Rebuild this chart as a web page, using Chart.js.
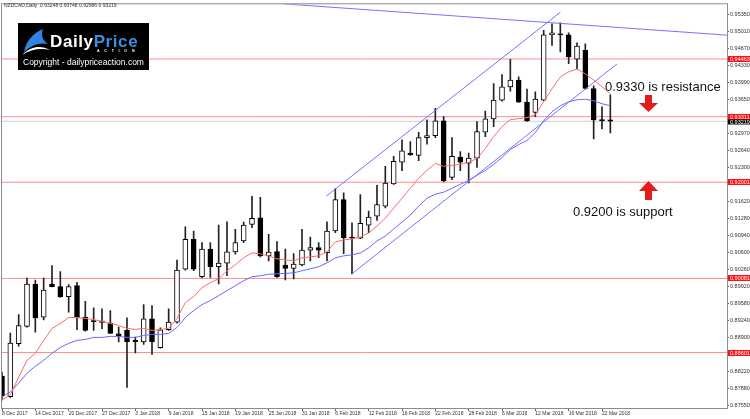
<!DOCTYPE html>
<html>
<head>
<meta charset="utf-8">
<script src="https://cdn.jsdelivr.net/npm/chart.js@4.4.0/dist/chart.umd.min.js"></script>
<style>
  html, body { margin: 0; padding: 0; background: #fff; }
  #wrap { position: relative; width: 750px; height: 419px; overflow: hidden; font-family: "Liberation Sans", Arial, sans-serif; }
  #wrap canvas { position: absolute; left: 0; top: 0; }
  .hdr { position: absolute; left: 4px; top: 2px; font-size: 5px; line-height: 6px; color: #333; white-space: nowrap; }
  .note { position: absolute; font-size: 13px; line-height: 13px; color: #111; white-space: nowrap; }
  #logo { position: absolute; left: 18px; top: 23px; width: 131px; height: 47px; background: #000; }
  #logo .brand { position: absolute; left: 32px; top: 10px; font-size: 17px; line-height: 17px; font-weight: bold; letter-spacing: 0.6px; color: #fff; white-space: nowrap; }
  #logo .brand span { color: #3b8fe3; }
  #logo .action { position: absolute; left: 79px; top: 25.5px; font-size: 3.5px; line-height: 4px; font-weight: bold; letter-spacing: 4.8px; color: #fff; }
  #logo .copy { position: absolute; left: 5px; top: 34px; font-size: 8.5px; line-height: 10px; color: #fff; white-space: nowrap; }
  #logo svg { position: absolute; left: 0; top: 0; }
  #arrows { position: absolute; left: 0; top: 0; }
</style>
</head>
<body>
<div id="wrap">
  <canvas id="chart" width="750" height="419"></canvas>
  <div class="hdr">NZDCAD,Daily&nbsp; 0.93248 0.93748 0.92986 0.93219</div>
  <div id="logo">
    <svg width="40" height="47">
      <path d="M6,29 C8,18 15,10 25,6 C23,12 24,17 30,21 C22,19 13,22 6,29 Z" fill="#2f86e0"/>
      <path d="M4,32 C13,23 23,22 32,27 C23,25 13,26 4,32 Z" fill="#fff"/>
    </svg>
    <div class="brand">Daily<span>Price</span></div>
    <div class="action">ACTION</div>
    <div class="copy">Copyright - dailypriceaction.com</div>
  </div>
  <div class="note" style="left:605px; top:80px;">0.9330 is resistance</div>
  <div class="note" style="left:573px; top:205px;">0.9200 is support</div>
  <svg id="arrows" width="750" height="419">
    <rect x="645" y="95" width="7" height="9" fill="#e31b1b"/>
    <polygon points="639,103 658,103 648.5,112" fill="#e31b1b"/>
    <rect x="645" y="190" width="7" height="10" fill="#e31b1b"/>
    <polygon points="639,191 658,191 648.5,181" fill="#e31b1b"/>
  </svg>
</div>
<script>
// NZDCAD daily candles, 8 Dec 2017 .. 23 Mar 2018
const open = [0.88130,0.87719,0.88779,0.89122,0.89970,0.89307,0.89970,0.89916,0.89718,0.89936,
  0.89307,0.89241,0.89228,0.89188,0.88977,0.89043,0.88844,0.88811,0.89275,0.88699,
  0.89057,0.89208,0.90268,0.90863,0.90115,0.90665,0.90314,0.90387,0.90611,0.90830,
  0.91161,0.91292,0.90532,0.90617,0.90347,0.90280,0.90353,0.90645,0.90697,0.90597,
  0.91028,0.91658,0.90909,0.90883,0.91147,0.91326,0.91525,0.91967,0.92404,0.92583,
  0.92537,0.92894,0.92934,0.93226,0.92100,0.92503,0.92384,0.92483,0.93000,0.93266,
  0.93643,0.93907,0.94040,0.93603,0.93397,0.93643,0.94945,0.94965,0.94945,0.94457,
  0.94636,0.93873,0.93252,0.93248];
const high = [0.88209,0.88989,0.89361,0.90089,0.90049,0.90089,0.90339,0.90220,0.89956,0.90002,
  0.89625,0.89494,0.89474,0.89440,0.89108,0.89295,0.88910,0.89559,0.89539,0.89097,
  0.89474,0.90447,0.91114,0.91028,0.90796,0.90796,0.91147,0.91213,0.91062,0.91207,
  0.91723,0.91703,0.90963,0.90816,0.90665,0.90578,0.91062,0.90909,0.90796,0.91213,
  0.91876,0.91789,0.91193,0.91757,0.91425,0.91941,0.92319,0.92517,0.92849,0.92815,
  0.93000,0.93246,0.93476,0.93311,0.92894,0.92616,0.92583,0.93212,0.93425,0.93972,
  0.94151,0.94457,0.94105,0.93861,0.93808,0.95033,0.95164,0.95183,0.94985,0.94786,
  0.94767,0.93927,0.93510,0.93748];
const low = [0.87653,0.87707,0.88731,0.89108,0.89009,0.89255,0.89910,0.89704,0.89406,0.89057,
  0.89029,0.89043,0.89077,0.88977,0.88811,0.87905,0.88592,0.88765,0.88566,0.88690,
  0.89043,0.89188,0.90248,0.90234,0.90089,0.90101,0.89970,0.90135,0.90566,0.90796,
  0.91094,0.90512,0.90433,0.90101,0.90049,0.90069,0.90333,0.90433,0.90498,0.90433,
  0.90995,0.90578,0.90169,0.90875,0.90995,0.91241,0.91491,0.91960,0.92233,0.92537,
  0.92432,0.92761,0.92894,0.92007,0.92055,0.92233,0.91987,0.92299,0.92914,0.93113,
  0.93623,0.93822,0.93595,0.93218,0.93311,0.93630,0.94735,0.94602,0.94370,0.94258,
  0.93861,0.92869,0.93067,0.92986];
const close = [0.87733,0.88791,0.89142,0.89970,0.89295,0.89851,0.89916,0.89718,0.89916,0.89295,
  0.89043,0.89216,0.89202,0.88985,0.88938,0.88811,0.88819,0.89275,0.88811,0.89057,
  0.89208,0.90248,0.90863,0.90268,0.90665,0.90314,0.90387,0.90611,0.90796,0.91147,
  0.91280,0.90532,0.90605,0.90115,0.90280,0.90367,0.90645,0.90697,0.90645,0.91028,
  0.91658,0.90895,0.90883,0.91181,0.91306,0.91558,0.91987,0.92418,0.92630,0.92545,
  0.92894,0.92934,0.93226,0.92035,0.92517,0.92404,0.92483,0.93014,0.93266,0.93643,
  0.93907,0.94040,0.93603,0.93226,0.93663,0.94945,0.94985,0.94945,0.94503,0.94721,
  0.93873,0.93246,0.93232,0.93219];

// moving averages (red = fast, blue = slow)
const maFast = [0.87653,0.87753,0.88110,0.88447,0.88586,0.88844,0.89083,0.89182,0.89301,0.89301,
  0.89281,0.89261,0.89222,0.89182,0.89142,0.89083,0.89063,0.89083,0.89043,0.89063,
  0.89083,0.89281,0.89599,0.89718,0.89897,0.89996,0.90075,0.90234,0.90353,0.90492,
  0.90591,0.90572,0.90532,0.90472,0.90453,0.90433,0.90492,0.90512,0.90532,0.90611,
  0.90810,0.90850,0.90869,0.90909,0.90989,0.91127,0.91286,0.91485,0.91683,0.91882,
  0.92080,0.92239,0.92378,0.92319,0.92339,0.92358,0.92398,0.92478,0.92676,0.92914,
  0.93113,0.93252,0.93272,0.93291,0.93351,0.93609,0.93867,0.94105,0.94205,0.94264,
  0.94165,0.94046,0.93907,0.93768];
const maSlow = [0.87713,0.87812,0.87991,0.88189,0.88328,0.88447,0.88586,0.88705,0.88785,0.88844,
  0.88864,0.88904,0.88904,0.88924,0.88924,0.88904,0.88904,0.88944,0.88964,0.88964,
  0.88983,0.89103,0.89301,0.89440,0.89559,0.89639,0.89738,0.89837,0.89936,0.90036,
  0.90115,0.90135,0.90165,0.90175,0.90181,0.90194,0.90234,0.90274,0.90314,0.90393,
  0.90492,0.90532,0.90552,0.90591,0.90691,0.90830,0.90929,0.91068,0.91207,0.91346,
  0.91525,0.91683,0.91763,0.91803,0.91882,0.91961,0.92041,0.92140,0.92239,0.92358,
  0.92497,0.92656,0.92755,0.92835,0.92994,0.93232,0.93411,0.93530,0.93609,0.93649,
  0.93659,0.93629,0.93569,0.93530];

const dateLabels = ['8 Dec 2017','14 Dec 2017','20 Dec 2017','27 Dec 2017','3 Jan 2018','9 Jan 2018',
  '15 Jan 2018','19 Jan 2018','25 Jan 2018','31 Jan 2018','6 Feb 2018','12 Feb 2018','16 Feb 2018',
  '22 Feb 2018','28 Feb 2018','6 Mar 2018','12 Mar 2018','16 Mar 2018','22 Mar 2018'];
const labelBars = [0,4,8,12,16,20,24,28,32,36,40,44,48,52,56,60,64,68,72];

const priceTicks = [0.95350,0.95010,0.94670,0.94330,0.93990,0.93650,0.92970,0.92640,0.92300,
  0.91620,0.91280,0.90940,0.90600,0.90260,0.89920,0.89580,0.89240,0.88900,0.88220,0.87880,0.87550];

// support / resistance levels and current bid
const levels = [0.94463, 0.93311, 0.92001, 0.90081, 0.88601];
const bid = 0.93219;

// hand drawn trendlines: [barIndex, price] pairs
const channelLow = [[42.0, 0.90175], [73.8, 0.94364]];
const channelHigh = [[38.9, 0.91723], [67.0, 0.95396]];
const topLine = [[33.7, 0.95565], [87.0, 0.94939]];

const lastBar = 87;

function seg(pts) {
    return pts.map(p => ({ x: p[0], y: p[1] }));
}
function lineSet(data, color, order) {
    return { type: 'line', data: data, borderColor: color, borderWidth: 1,
             pointRadius: 0, tension: 0, fill: false, order: order };
}

const bodies = open.map((o, i) => ({ x: i, y: [o, close[i]] }));
const wicks = open.map((o, i) => ({ x: i, y: [low[i], high[i]] }));
const bodyColors = open.map((o, i) => close[i] > o ? '#ffffff' : '#000000');

const datasets = [
    { type: 'bar', data: bodies, backgroundColor: bodyColors, borderColor: '#000',
      borderWidth: 1, borderSkipped: false, barThickness: 5, grouped: false, order: 1 },
    { type: 'bar', data: wicks, backgroundColor: '#222', borderWidth: 0,
      barThickness: 1, grouped: false, order: 2 },
    lineSet(maFast.map((v, i) => ({ x: i, y: v })), '#ff6a6a', 0),
    lineSet(maSlow.map((v, i) => ({ x: i, y: v })), '#6a6aff', 0),
    lineSet(seg(channelLow), '#7373ff', 0),
    lineSet(seg(channelHigh), '#7373ff', 0),
    lineSet(seg(topLine), '#7373ff', 0),
    lineSet([{ x: 0, y: bid }, { x: lastBar, y: bid }], '#cfcfcf', 3)
];
levels.forEach(p => {
    datasets.push(lineSet([{ x: 0, y: p }, { x: lastBar, y: p }], '#ff8c8c', 3));
});

const priceTags = {
    id: 'priceTags',
    afterDraw(chart) {
        const { ctx, chartArea, scales } = chart;
        const y = scales.y;
        ctx.save();
        ctx.strokeStyle = '#8c8c8c';
        ctx.lineWidth = 1;
        ctx.strokeRect(chartArea.left - 0.5, chartArea.top - 0.5,
            chartArea.right - chartArea.left + 1, chartArea.bottom - chartArea.top + 1);
        ctx.font = '5.5px "Liberation Sans"';
        ctx.textBaseline = 'middle';
        levels.forEach(p => {
            const py = Math.round(y.getPixelForValue(p));
            ctx.fillStyle = '#ff1010';
            ctx.fillRect(chartArea.right + 1, py - 3, 23, 6);
            ctx.fillStyle = '#fff';
            ctx.fillText(p.toFixed(5), chartArea.right + 3, py);
        });
        const by = Math.round(y.getPixelForValue(bid)) + 1;
        ctx.fillStyle = '#000';
        ctx.fillRect(chartArea.right + 1, by - 2.5, 23, 5);
        ctx.fillStyle = '#fff';
        ctx.fillText(bid.toFixed(5), chartArea.right + 3, by);
        ctx.restore();
    }
};

Chart.defaults.font.family = '"Liberation Sans", Arial, sans-serif';

new Chart(document.getElementById('chart'), {
    type: 'bar',
    data: { datasets: datasets },
    options: {
        responsive: false,
        animation: false,
        devicePixelRatio: 1,
        layout: { padding: { left: 2, top: 2, right: 0, bottom: 0 } },
        plugins: { legend: { display: false }, tooltip: { enabled: false } },
        scales: {
            x: {
                type: 'linear',
                min: 0,
                max: lastBar,
                offset: false,
                grid: { offset: false, drawOnChartArea: false, tickLength: 3, color: '#666' },
                border: { color: '#8c8c8c' },
                afterBuildTicks: axis => { axis.ticks = labelBars.map(v => ({ value: v })); },
                afterFit: axis => { axis.height = 11; },
                ticks: {
                    autoSkip: false, maxRotation: 0, align: 'start', padding: 0,
                    color: '#333', font: { size: 5 },
                    callback: v => dateLabels[labelBars.indexOf(v)]
                }
            },
            y: {
                type: 'linear',
                position: 'right',
                min: 0.87494,
                max: 0.95555,
                grid: { drawOnChartArea: false, tickLength: 2, color: '#666' },
                border: { color: '#8c8c8c' },
                afterBuildTicks: axis => { axis.ticks = priceTicks.map(v => ({ value: v })); },
                afterFit: axis => { axis.width = 23; },
                ticks: {
                    padding: 1, color: '#333', font: { size: 5.5 },
                    callback: v => v.toFixed(5)
                }
            }
        }
    },
    plugins: [priceTags]
});
</script>
</body>
</html>
